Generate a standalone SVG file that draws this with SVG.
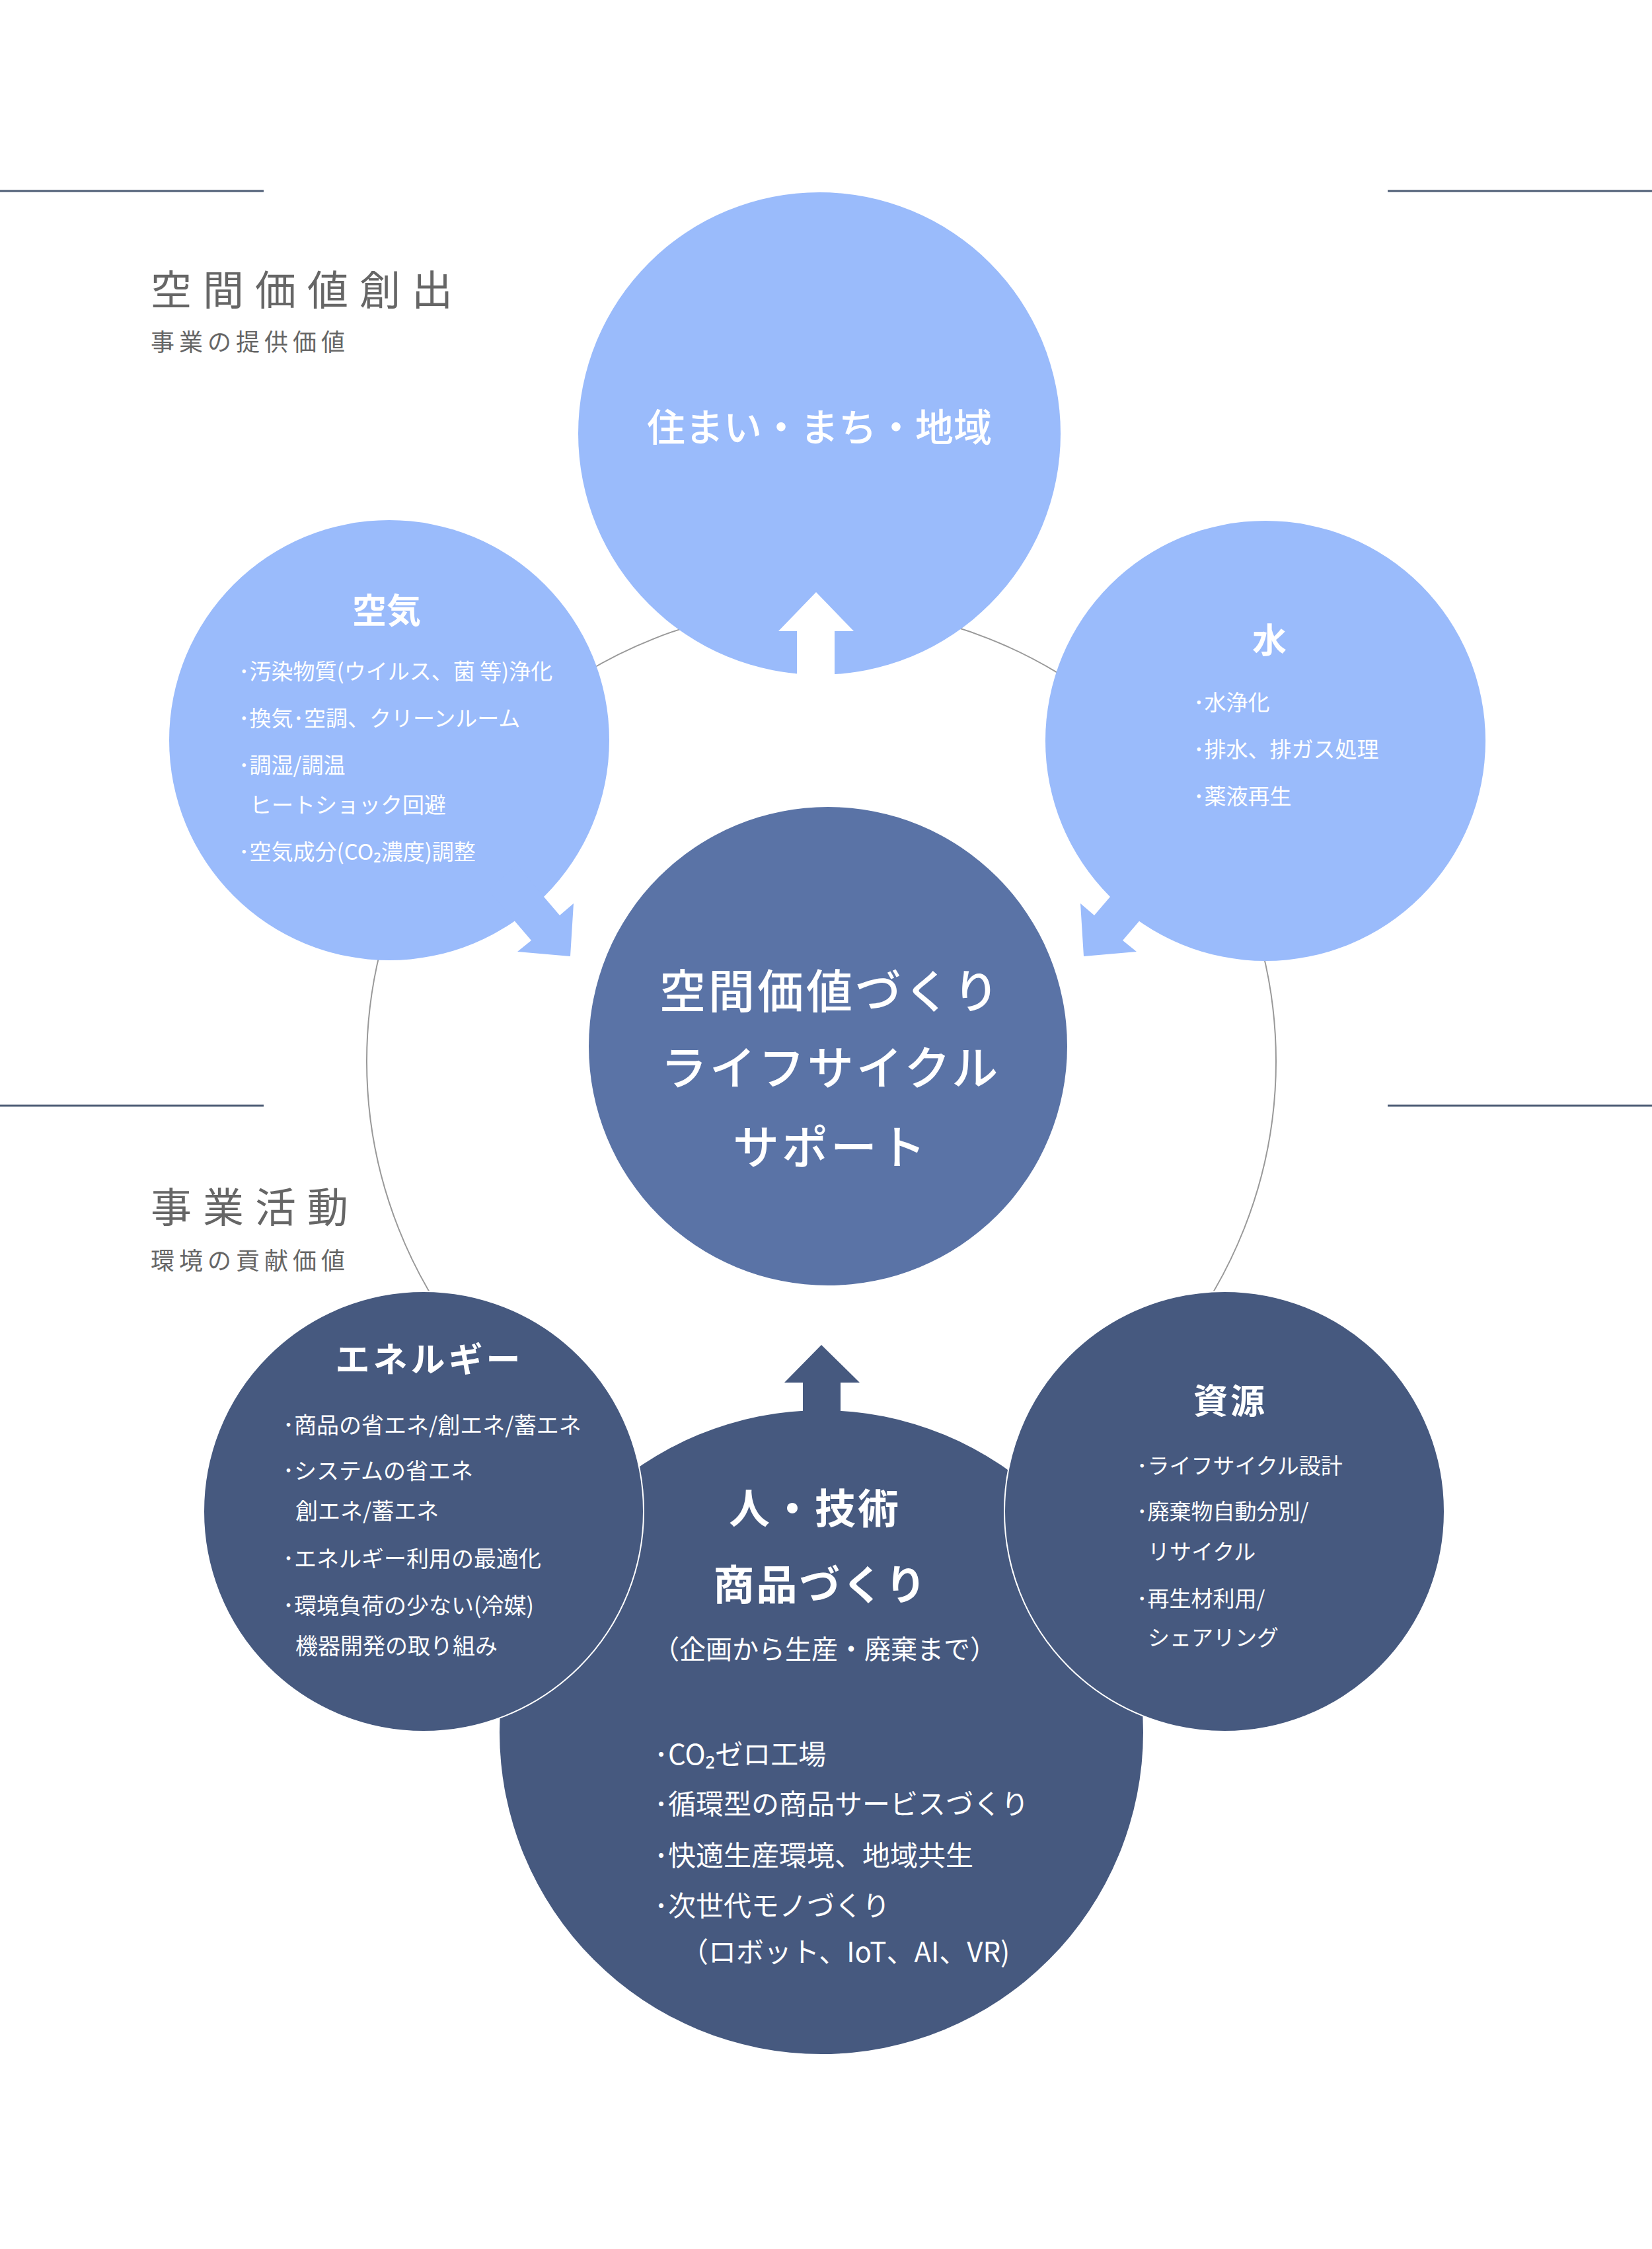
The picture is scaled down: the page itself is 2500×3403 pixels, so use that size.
<svg xmlns="http://www.w3.org/2000/svg" width="2500" height="3403" viewBox="0 0 2500 3403">
<style>
text{font-family:"Noto Sans CJK JP","Noto Sans",sans-serif;fill:#fff}
.lb{fill:#9abbfb}
.dk{fill:#46597f}
.md{fill:#5a73a6}
.sec{fill:#666;font-size:62px;letter-spacing:17px}
.sub{fill:#666;font-size:36px;letter-spacing:7px}
.ttl{font-weight:700;font-size:52px;text-anchor:middle}
.it{font-size:33px}
.hl{stroke:#4d5d75;stroke-width:3}
</style>
<rect width="2500" height="3403" fill="#fff"/>
<g id="connectors">
<circle cx="1243" cy="1606" r="688" fill="none" stroke="#999" stroke-width="2"/>
<line class="hl" x1="0" y1="289" x2="399" y2="289"/>
<line class="hl" x1="2100" y1="289" x2="2500" y2="289"/>
<line class="hl" x1="0" y1="1673" x2="399" y2="1673"/>
<line class="hl" x1="2100" y1="1673" x2="2500" y2="1673"/>
</g>
<g id="labels">
<text class="sec" x="228" y="462">空間価値創出</text>
<text class="sub" x="228" y="531">事業の提供価値</text>
<text class="sec" x="228" y="1850">事業活動</text>
<text class="sub" x="228" y="1921">環境の貢献価値</text>
</g>
<g id="node-town">
<circle class="lb" cx="1240" cy="656" r="365"/>
<polygon fill="#fff" points="1235,896 1292,955 1263,955 1263,1030 1206,1030 1206,955 1178,955"/>
<text x="1240" y="668" font-size="58" text-anchor="middle" font-weight="500">住まい・まち・地域</text>
</g>
<g id="node-air">
<circle class="lb" cx="589" cy="1120" r="333"/>
<polygon class="lb" points="782,1309 847,1385 868,1367 863,1447 783,1440 804,1423 739,1347"/>
<text class="ttl" x="585" y="943">空気</text>
<text class="it" x="361" y="1028">･汚染物質(ウイルス、菌 等)浄化</text>
<text class="it" x="361" y="1099">･換気･空調、クリーンルーム</text>
<text class="it" x="361" y="1170">･調湿/調温</text>
<text class="it" x="378" y="1230">ヒートショック回避</text>
<text class="it" x="361" y="1301">･空気成分(CO₂濃度)調整</text>
</g>
<g id="node-water">
<circle class="lb" cx="1915" cy="1121" r="333"/>
<polygon class="lb" points="1721,1309 1656,1385 1635,1367 1640,1447 1720,1440 1699,1423 1764,1347"/>
<text class="ttl" x="1921" y="988">水</text>
<text class="it" x="1806" y="1075">･水浄化</text>
<text class="it" x="1806" y="1146">･排水、排ガス処理</text>
<text class="it" x="1806" y="1217">･薬液再生</text>
</g>
<g id="node-center">
<circle class="md" cx="1253" cy="1583" r="362"/>
<text x="1257" y="1526" font-size="70" letter-spacing="4" text-anchor="middle" font-weight="500">空間価値づくり</text>
<text x="1257" y="1642" font-size="70" letter-spacing="4" text-anchor="middle" font-weight="500">ライフサイクル</text>
<text x="1257" y="1762" font-size="70" letter-spacing="4" text-anchor="middle" font-weight="500">サポート</text>
</g>
<g id="node-tech">
<circle class="dk" cx="1243" cy="2621" r="487"/>
<polygon class="dk" points="1243,2035 1301,2092 1272,2092 1272,2160 1215,2160 1215,2092 1187,2092"/>
<text x="1233" y="2306" font-size="62" letter-spacing="3" text-anchor="middle" font-weight="700">人・技術</text>
<text x="1242" y="2421" font-size="62" letter-spacing="3" text-anchor="middle" font-weight="700">商品づくり</text>
<text x="1248" y="2510" font-size="40" text-anchor="middle">（企画から生産・廃棄まで）</text>
<text x="990" y="2670" font-size="42">･CO₂ゼロ工場</text>
<text x="990" y="2745" font-size="42">･循環型の商品サービスづくり</text>
<text x="990" y="2823" font-size="42">･快適生産環境、地域共生</text>
<text x="990" y="2899" font-size="42">･次世代モノづくり</text>
<text x="1030" y="2969" font-size="42">（ロボット、IoT、AI、VR)</text>
</g>
<g id="node-energy">
<circle class="dk" cx="641" cy="2287" r="333" stroke="#fff" stroke-width="2"/>
<text class="ttl" x="650" y="2076" letter-spacing="5">エネルギー</text>
<text x="428" y="2169" font-size="34">･商品の省エネ/創エネ/蓄エネ</text>
<text x="428" y="2238" font-size="34">･システムの省エネ</text>
<text x="447" y="2299" font-size="34">創エネ/蓄エネ</text>
<text x="428" y="2371" font-size="34">･エネルギー利用の最適化</text>
<text x="428" y="2442" font-size="34">･環境負荷の少ない(冷媒)</text>
<text x="447" y="2503" font-size="34">機器開発の取り組み</text>
</g>
<g id="node-resource">
<circle class="dk" cx="1853" cy="2287" r="333" stroke="#fff" stroke-width="2"/>
<text class="ttl" x="1862" y="2139" letter-spacing="4">資源</text>
<text x="1720" y="2230" font-size="33">･ライフサイクル設計</text>
<text x="1720" y="2299" font-size="33">･廃棄物自動分別/</text>
<text x="1737" y="2360" font-size="33">リサイクル</text>
<text x="1720" y="2431" font-size="33">･再生材利用/</text>
<text x="1737" y="2490" font-size="33">シェアリング</text>
</g>
</svg>
